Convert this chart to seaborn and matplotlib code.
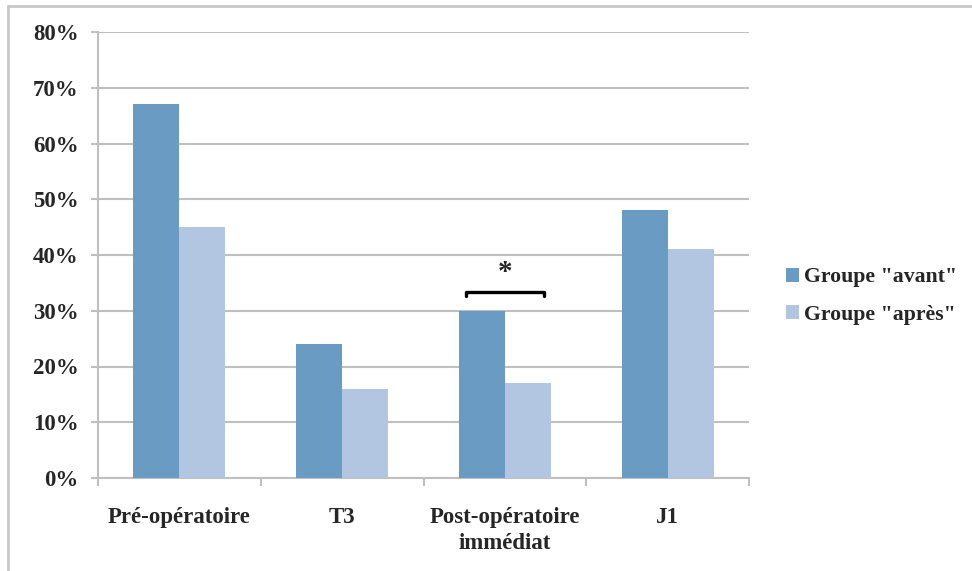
import pandas as pd
import matplotlib.pyplot as plt
import seaborn as sns
from matplotlib.lines import Line2D
from matplotlib.ticker import FixedLocator

# Données (en %)
moments = ["Pré-opératoire", "T3", "Post-opératoire\nimmédiat", "J1"]
groupes = ['Groupe "avant"', 'Groupe "après"']
avant = [67, 24, 30, 48]
apres = [45, 16, 17, 41]
yticks = [0, 10, 20, 30, 40, 50, 60, 70, 80]

df = pd.DataFrame({
    "moment": moments * 2,
    "groupe": [groupes[0]] * 4 + [groupes[1]] * 4,
    "valeur": avant + apres,
})

sns.set_style("white")
plt.rcParams["font.family"] = ["Liberation Serif", "DejaVu Serif"]
plt.rcParams["font.weight"] = "bold"

fig = plt.figure(figsize=(9.72, 5.71), dpi=100)
ax = fig.add_axes([98 / 972, 93 / 571, 651 / 972, 446 / 571])

sns.barplot(data=df, x="moment", y="valeur", hue="groupe", order=moments,
            hue_order=groupes, palette=["#6A9BC3", "#B3C6E1"], width=0.566,
            gap=0, saturation=1, ax=ax, zorder=3, linewidth=0)

grid_col = "#BFBFBF"
ax.set_ylim(0, 80)
ax.set_xlim(-0.5, 3.5)
ax.set_yticks(yticks)
ax.set_yticklabels([f"{v}%" for v in yticks], fontsize=16.5, fontweight="bold")
ax.yaxis.grid(True, color=grid_col, linewidth=1.5, zorder=0)
ax.tick_params(axis="y", length=5, width=1.5, color=grid_col, pad=9, left=True)

ax.set_xticks(range(len(moments)))
ax.set_xticklabels(moments, fontsize=16.5, fontweight="bold", linespacing=1.3)
ax.xaxis.set_minor_locator(FixedLocator([-0.5, 0.5, 1.5, 2.5, 3.5]))
ax.tick_params(axis="x", which="major", length=0, pad=21)
ax.tick_params(axis="x", which="minor", length=6, width=1.5, color=grid_col, bottom=True)

for side in ["top", "right"]:
    ax.spines[side].set_visible(False)
for side in ["left", "bottom"]:
    ax.spines[side].set_color(grid_col)
    ax.spines[side].set_linewidth(1.5)

ax.set_xlabel("")
ax.set_ylabel("")

# accolade de significativité
ax.plot([1.76, 1.76, 2.24, 2.24], [32.6, 33.4, 33.4, 32.6], color="black",
        linewidth=2.4, solid_joinstyle="round", solid_capstyle="round", zorder=4)
ax.text(2.0, 36.8, "*", ha="center", va="center", fontsize=21, fontweight="bold")

ax.legend(loc="center left", bbox_to_anchor=(1.043, 0.408), frameon=False,
          fontsize=15.7, handlelength=0.6, handleheight=0.6,
          handletextpad=0.25, labelspacing=0.8, borderaxespad=0)

# cadre gris autour de la figure
fig.add_artist(Line2D([8 / 972, 1], [1 - 6 / 571] * 2, color="#C8C8C8", linewidth=2))
fig.add_artist(Line2D([8 / 972] * 2, [0, 1 - 6 / 571], color="#C8C8C8", linewidth=2))

fig.savefig("out.png", dpi=100)
